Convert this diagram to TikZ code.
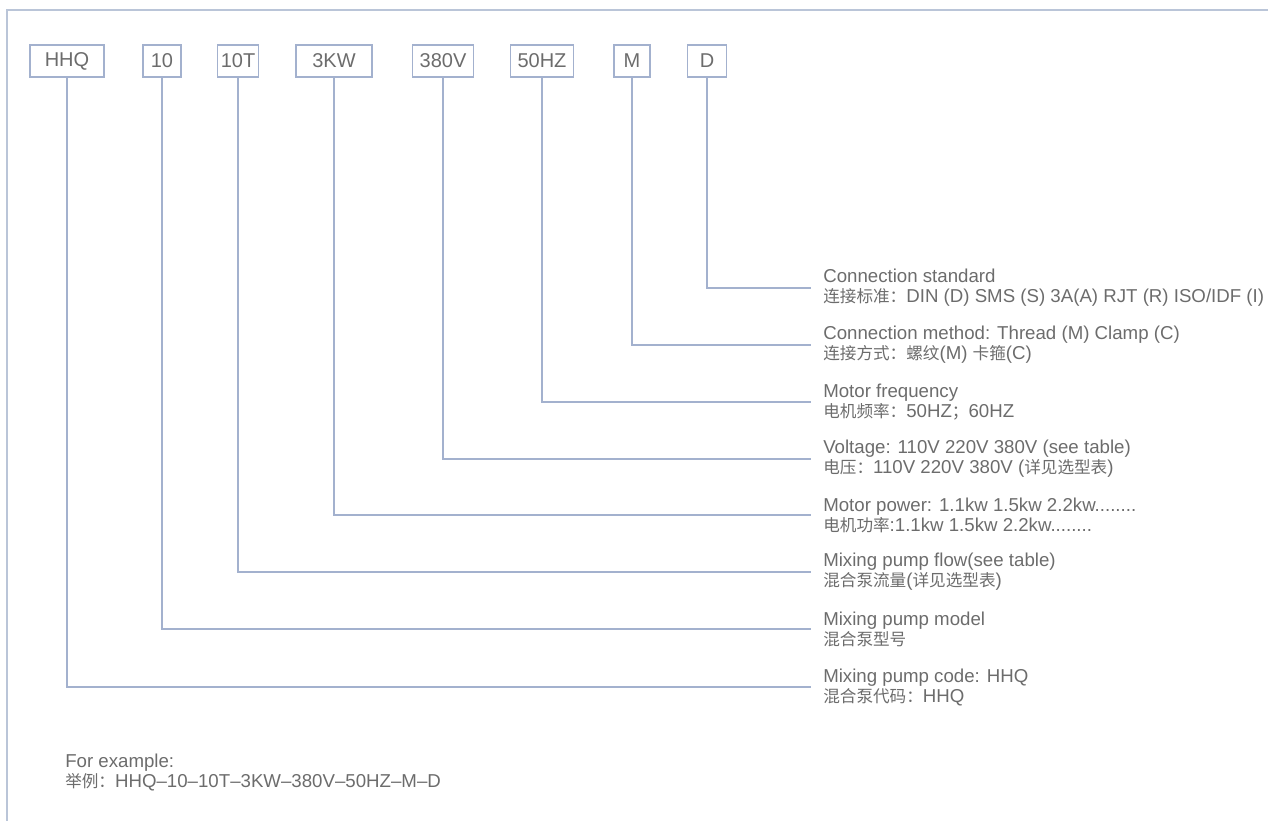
\documentclass[tikz,border=0pt]{standalone}
\usepackage{fontspec}
\setmainfont{Liberation Sans}
\newfontfamily\cjk{Noto Sans CJK SC}[Scale=0.89]
\definecolor{linkblue}{HTML}{A3B1CE}
\definecolor{framegray}{HTML}{BAC5D8}
\definecolor{textgray}{HTML}{6C6C6C}

\begin{document}
\begin{tikzpicture}[x=0.75pt,y=-0.75pt]
            \useasboundingbox (0,0) rectangle (1268,821);
            \draw[framegray,line width=1.2pt] (7,821) -- (7,10) -- (1268,10);

            \tikzset{CodeBox/.style={draw=linkblue,line width=1.1pt,text=textgray,
                font=\fontsize{15}{16}\selectfont,minimum height=24pt,inner xsep=0pt}};
            \tikzset{Desc/.style={anchor=west,align=left,text=textgray,inner xsep=9pt,
                inner ysep=0pt,font=\fontsize{14}{15}\selectfont}};
            \tikzset{Link/.style={linkblue,line width=1.2pt}};

            \node[CodeBox,minimum width=55.5pt] (b_code) at (67,61){HHQ};
            \node[CodeBox,minimum width=28.5pt] (b_model) at (162,61){10};
            \node[CodeBox,minimum width=30.75pt] (b_flow) at (238,61){10T};
            \node[CodeBox,minimum width=57pt] (b_power) at (334,61){3KW};
            \node[CodeBox,minimum width=45.75pt] (b_volt) at (443,61){380V};
            \node[CodeBox,minimum width=47.25pt] (b_freq) at (542,61){50HZ};
            \node[CodeBox,minimum width=27pt] (b_method) at (632,61){M};
            \node[CodeBox,minimum width=29.25pt] (b_std) at (707,61){D};

            \node[Desc] (d_std) at (811,288){Connection standard\\{\cjk 连接标准：}DIN (D) SMS (S) 3A(A) RJT (R) ISO/IDF (I)};
            \node[Desc] (d_method) at (811,345){Connection method: Thread (M) Clamp (C)\\{\cjk 连接方式：螺纹}(M) {\cjk 卡箍}(C)};
            \node[Desc] (d_freq) at (811,402){Motor frequency\\{\cjk 电机频率：}50HZ{\cjk ；}60HZ};
            \node[Desc] (d_volt) at (811,459){Voltage: 110V 220V 380V (see table)\\{\cjk 电压：}110V 220V 380V ({\cjk 详见选型表})};
            \node[Desc] (d_power) at (811,515){Motor power: 1.1kw 1.5kw 2.2kw........\\{\cjk 电机功率}:1.1kw 1.5kw 2.2kw........};
            \node[Desc] (d_flow) at (811,572){Mixing pump flow(see table)\\{\cjk 混合泵流量}({\cjk 详见选型表})};
            \node[Desc] (d_model) at (811,629){Mixing pump model\\{\cjk 混合泵型号}};
            \node[Desc] (d_code) at (811,687){Mixing pump code: HHQ\\{\cjk 混合泵代码：}HHQ};

            \node[Desc,inner xsep=0pt] (example) at (65,772){For example:\\{\cjk 举例：}HHQ–10–10T–3KW–380V–50HZ–M–D};

            \draw[Link] (b_std.south) |- (d_std.west);
            \draw[Link] (b_method.south) |- (d_method.west);
            \draw[Link] (b_freq.south) |- (d_freq.west);
            \draw[Link] (b_volt.south) |- (d_volt.west);
            \draw[Link] (b_power.south) |- (d_power.west);
            \draw[Link] (b_flow.south) |- (d_flow.west);
            \draw[Link] (b_model.south) |- (d_model.west);
            \draw[Link] (b_code.south) |- (d_code.west);
\end{tikzpicture}
\end{document}
